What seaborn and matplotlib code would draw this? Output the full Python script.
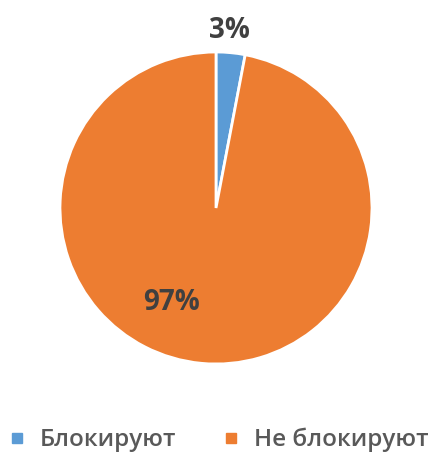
import matplotlib
matplotlib.use("Agg")
import matplotlib.pyplot as plt
from matplotlib.lines import Line2D
import seaborn as sns

categories = ["Блокируют", "Не блокируют"]
values = [3, 97]
labels = ["3%", "97%"]
colors = ["#5B9BD5", "#ED7D31"]

sns.set_theme(style="white")
plt.rcParams['font.family'] = ['Open Sans', 'DejaVu Sans']

W, H = 439, 459
fig = plt.figure(figsize=(W / 100, H / 100), dpi=100)
cx, cy, r = 216, 208, 156
ax = fig.add_axes([(cx - r) / W, 1 - (cy + r) / H, 2 * r / W, 2 * r / H])
wedges, _ = ax.pie(values, colors=colors, startangle=90, counterclock=False,
                   radius=1.0, wedgeprops=dict(edgecolor="white", linewidth=2))
ax.set_xlim(-1, 1)
ax.set_ylim(-1, 1)
ax.set_aspect("equal")
ax.axis("off")

# data labels (Excel-style positions)
ax.text((229.5 - cx) / r, (cy - 27) / r, labels[0], ha="center", va="center_baseline",
        fontsize=20, fontweight="bold", color="#404040")
ax.text((171 - cx) / r, (cy - 299) / r, labels[1], ha="center", va="center_baseline",
        fontsize=20, fontweight="bold", color="#404040")

handles = [Line2D([], [], marker="s", linestyle="", color=c, markersize=7, label=l)
           for c, l in zip(colors, categories)]
leg = fig.legend(handles=handles, loc="center", bbox_to_anchor=(0.5, 1 - 440 / H),
                 ncol=2, frameon=False, prop=dict(size=17.5, weight=600),
                 labelcolor="#595959",
                 handlelength=0.5, handletextpad=0.7,
                 columnspacing=2.0)

fig.savefig("out.png", dpi=100)
